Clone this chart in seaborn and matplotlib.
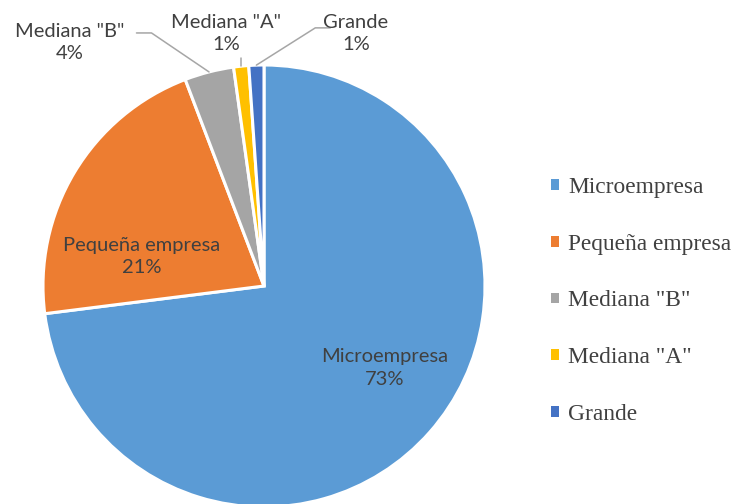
import numpy as np
import seaborn as sns
import matplotlib.pyplot as plt

# Data
categories = ["Microempresa", "Pequeña empresa", 'Mediana "B"', 'Mediana "A"', "Grande"]
shares = [73.0, 21.2, 3.6, 1.1, 1.1]
colors = ["#5B9BD5", "#ED7D31", "#A5A5A5", "#FFC000", "#4472C4"]

sns.set_style("white")
plt.rcParams['font.family'] = ['Lato', 'DejaVu Sans']

fig = plt.figure(figsize=(7.36, 5.04), dpi=100)
# pie radius ~221 px, centre at (264, 286) px from top-left
ax = fig.add_axes([(264 - 221) / 736, (504 - 286 - 221) / 504, 442 / 736, 442 / 504])

wedges, _ = ax.pie(
    shares,
    colors=sns.color_palette(colors),
    startangle=90,
    counterclock=False,
    radius=1,
    wedgeprops=dict(edgecolor="white", linewidth=2.2),
)
ax.set_xlim(-1, 1)
ax.set_ylim(-1, 1)
ax.set_aspect("equal")
ax.axis("off")

txt_color = "#404040"
fs = 14.5
labels = ["%s\n%.0f%%" % (c, v) for c, v in zip(categories, shares)]

# inside labels
ax.text(0.548, -0.371, labels[0], ha="center", va="center", fontsize=fs,
        color=txt_color, linespacing=1.4)
ax.text(-0.552, 0.133, labels[1], ha="center", va="center", fontsize=fs,
        color=txt_color, linespacing=1.4)

# outside labels with leader lines
outside = {
    2: ((-0.878, 1.102), [(-0.577, 1.145), (-0.509, 1.145)]),
    3: ((-0.172, 1.142), []),
    4: ((0.416, 1.142), [(0.30, 1.168), (0.232, 1.168)]),
}
for i, (pos, pts) in outside.items():
    w = wedges[i]
    mid = np.deg2rad((w.theta1 + w.theta2) / 2)
    end = (np.cos(mid) * 1.0, np.sin(mid) * 1.0)
    if i == 3:
        pts = [(end[0], 1.03)]
    xs = [p[0] for p in pts] + [end[0]]
    ys = [p[1] for p in pts] + [end[1]]
    ax.plot(xs, ys, color="#A6A6A6", lw=1.1, clip_on=False)
    ax.text(pos[0], pos[1], labels[i], ha="center", va="center", fontsize=fs,
            color=txt_color, linespacing=1.4, clip_on=False)

leg = ax.legend(
    wedges, categories,
    loc="center left",
    bbox_to_anchor=(551 / 736, (504 - 301) / 504),
    bbox_transform=fig.transFigure,
    frameon=False,
    prop={"family": "Liberation Serif", "size": 16.8},
    labelspacing=1.53,
    handlelength=0.33,
    handleheight=0.33,
    handletextpad=0.4,
    borderpad=0,
    borderaxespad=0,
)
for t in leg.get_texts():
    t.set_color(txt_color)
for h in leg.legend_handles:
    h.set_edgecolor("none")

plt.savefig("out.png", dpi=100)
